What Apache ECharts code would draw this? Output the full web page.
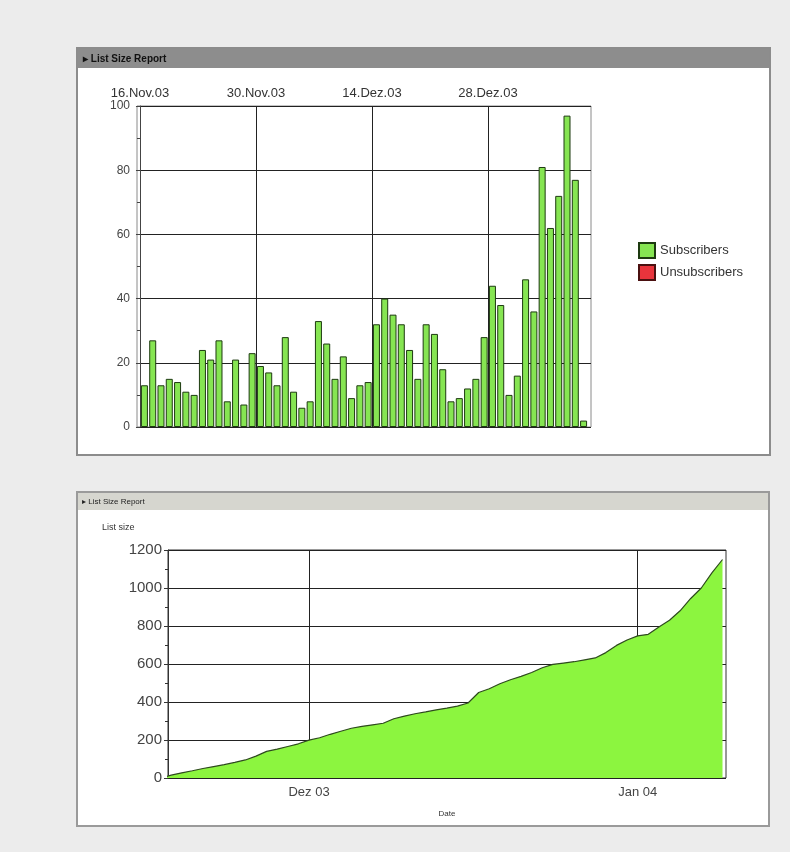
<!DOCTYPE html>
<html>
<head>
<meta charset="utf-8">
<script src="https://cdn.jsdelivr.net/npm/echarts@6/dist/echarts.min.js"></script>
<style>
  html, body { margin: 0; padding: 0; background: #ececec; }
  #chart { width: 790px; height: 852px; }
</style>
</head>
<body>
<div id="chart"></div>
<script>
// daily new subscribers, 17 Nov 03 .. 9 Jan 04 (day 1 = 17 Nov, day 0 = 16 Nov)
const subscribers = [13, 27, 13, 15, 14, 11, 10, 24, 21, 27, 8, 21, 7, 23, 19, 17, 13, 28, 11, 6,
  8, 33, 26, 15, 22, 9, 13, 14, 32, 40, 35, 32, 24, 15, 32, 29, 18, 8, 9, 12,
  15, 28, 44, 38, 10, 16, 46, 36, 81, 62, 72, 97, 77, 2];
const unsubscribers = [];
// list size per day, same day numbering
const listSize = [0, 15, 27, 38, 50, 60, 70, 82, 95, 115, 140, 152, 166, 180, 199, 212, 230, 246, 262, 272,
  280, 288, 312, 326, 338, 348, 359, 368, 378, 395, 450, 470, 496, 517, 535, 555, 580, 598, 605, 612,
  622, 632, 660, 698, 726, 748, 756, 795, 830, 880, 945, 1000, 1080, 1150];

const topTickDays = [0, 14, 28, 42];
const topTickLabels = ["16.Nov.03", "30.Nov.03", "14.Dez.03", "28.Dez.03"];
const bottomTickDays = [15, 46];
const bottomTickLabels = ["Dez 03", "Jan 04"];

const font = "Liberation Sans, Arial, sans-serif";

function labelFor(days, labels) {
  return function (v) {
    const i = days.indexOf(Math.round(v));
    return i >= 0 ? labels[i] : "";
  };
}

const subData = subscribers.map((v, i) => [i + 1, v]);
const sizeData = listSize.map((v, i) => [i + 1, v]);

const chart = echarts.init(document.getElementById("chart"));
chart.setOption({
  backgroundColor: "#ececec",
  animation: false,
  textStyle: { fontFamily: font },
  graphic: [
    // top panel
    { type: "rect", z: -1, shape: { x: 77, y: 48, width: 693, height: 407 },
      style: { fill: "#fff", stroke: "#8c8c8c", lineWidth: 2 } },
    { type: "rect", z: -1, shape: { x: 78, y: 49, width: 691, height: 19 },
      style: { fill: "#8d8d8d" } },
    { type: "text", z: 1, x: 83, y: 59,
      style: { text: "▸ List Size Report", fill: "#111", font: "bold 10px " + font, textVerticalAlign: "middle" } },
    // bottom panel
    { type: "rect", z: -1, shape: { x: 77, y: 492, width: 692, height: 334 },
      style: { fill: "#fff", stroke: "#9a9a9a", lineWidth: 2 } },
    { type: "rect", z: -1, shape: { x: 78, y: 493, width: 690, height: 17 },
      style: { fill: "#d6d6cf" } },
    { type: "text", z: 1, x: 82, y: 502,
      style: { text: "▸ List Size Report", fill: "#222", font: "8px " + font, textVerticalAlign: "middle" } },
    { type: "text", z: 1, x: 102, y: 528,
      style: { text: "List size", fill: "#333", font: "9px " + font, textVerticalAlign: "middle" } }
  ],
  legend: {
    data: ["Subscribers", "Unsubscribers"],
    orient: "vertical",
    left: 633,
    top: 237,
    icon: "rect",
    itemWidth: 16,
    itemHeight: 15,
    itemGap: 5,
    textStyle: { fontSize: 13, color: "#333", fontFamily: font }
  },
  grid: [
    { left: 137, top: 106, width: 454, height: 321, show: true, borderColor: "#8a8a8a", borderWidth: 1 },
    { left: 168, top: 550, width: 558, height: 228, show: true, borderColor: "#333", borderWidth: 1 }
  ],
  xAxis: [
    {
      gridIndex: 0, type: "value", position: "top", min: -0.36, max: 54.43,
      axisLine: { show: false },
      axisTick: { show: false, customValues: [14, 28, 42] },
      axisLabel: { customValues: topTickDays, formatter: labelFor(topTickDays, topTickLabels),
        color: "#333", fontSize: 13, margin: 6 },
      splitLine: { show: true, lineStyle: { color: "#222", width: 1 } }
    },
    {
      gridIndex: 1, type: "value", min: 1.7, max: 54.33,
      axisLine: { show: false },
      axisTick: { show: true, inside: true, length: 3, customValues: bottomTickDays, lineStyle: { color: "#222" } },
      axisLabel: { customValues: bottomTickDays, formatter: labelFor(bottomTickDays, bottomTickLabels),
        color: "#444", fontSize: 13, margin: 8 },
      splitLine: { show: true, lineStyle: { color: "#222", width: 1 } },
      name: "Date", nameLocation: "middle", nameGap: 32,
      nameTextStyle: { fontSize: 8, color: "#333" }
    }
  ],
  yAxis: [
    {
      gridIndex: 0, type: "value", min: 0, max: 100, interval: 20,
      axisLine: { show: true, lineStyle: { color: "#444" } },
      axisTick: { show: true, length: 4, lineStyle: { color: "#444" } },
      minorTick: { show: true, splitNumber: 2, length: 3, lineStyle: { color: "#444" } },
      axisLabel: { color: "#444", fontSize: 12, margin: 7 },
      splitLine: { show: true, lineStyle: { color: "#222", width: 1 } }
    },
    {
      gridIndex: 1, type: "value", min: 0, max: 1200, interval: 200,
      axisLine: { show: true, lineStyle: { color: "#333" } },
      axisTick: { show: true, length: 4, lineStyle: { color: "#333" } },
      minorTick: { show: true, splitNumber: 2, length: 3, lineStyle: { color: "#333" } },
      axisLabel: { color: "#444", fontSize: 15, margin: 6, formatter: (v) => String(v) },
      splitLine: { show: true, lineStyle: { color: "#222", width: 1 } }
    }
  ],
  series: [
    {
      name: "Subscribers", type: "bar", xAxisIndex: 0, yAxisIndex: 0,
      barWidth: 7,
      itemStyle: { color: "#86e552", borderColor: "#1d3a10", borderWidth: 1 },
      data: subData
    },
    {
      name: "Unsubscribers", type: "bar", xAxisIndex: 0, yAxisIndex: 0,
      barWidth: 7,
      itemStyle: { color: "#e8343c", borderColor: "#4a1010", borderWidth: 1 },
      data: unsubscribers
    },
    {
      name: "List size", type: "line", xAxisIndex: 1, yAxisIndex: 1,
      showSymbol: false,
      lineStyle: { color: "#2e4a1e", width: 1.2 },
      areaStyle: { color: "#8cf53f", opacity: 1 },
      data: sizeData
    }
  ]
});
</script>
</body>
</html>
